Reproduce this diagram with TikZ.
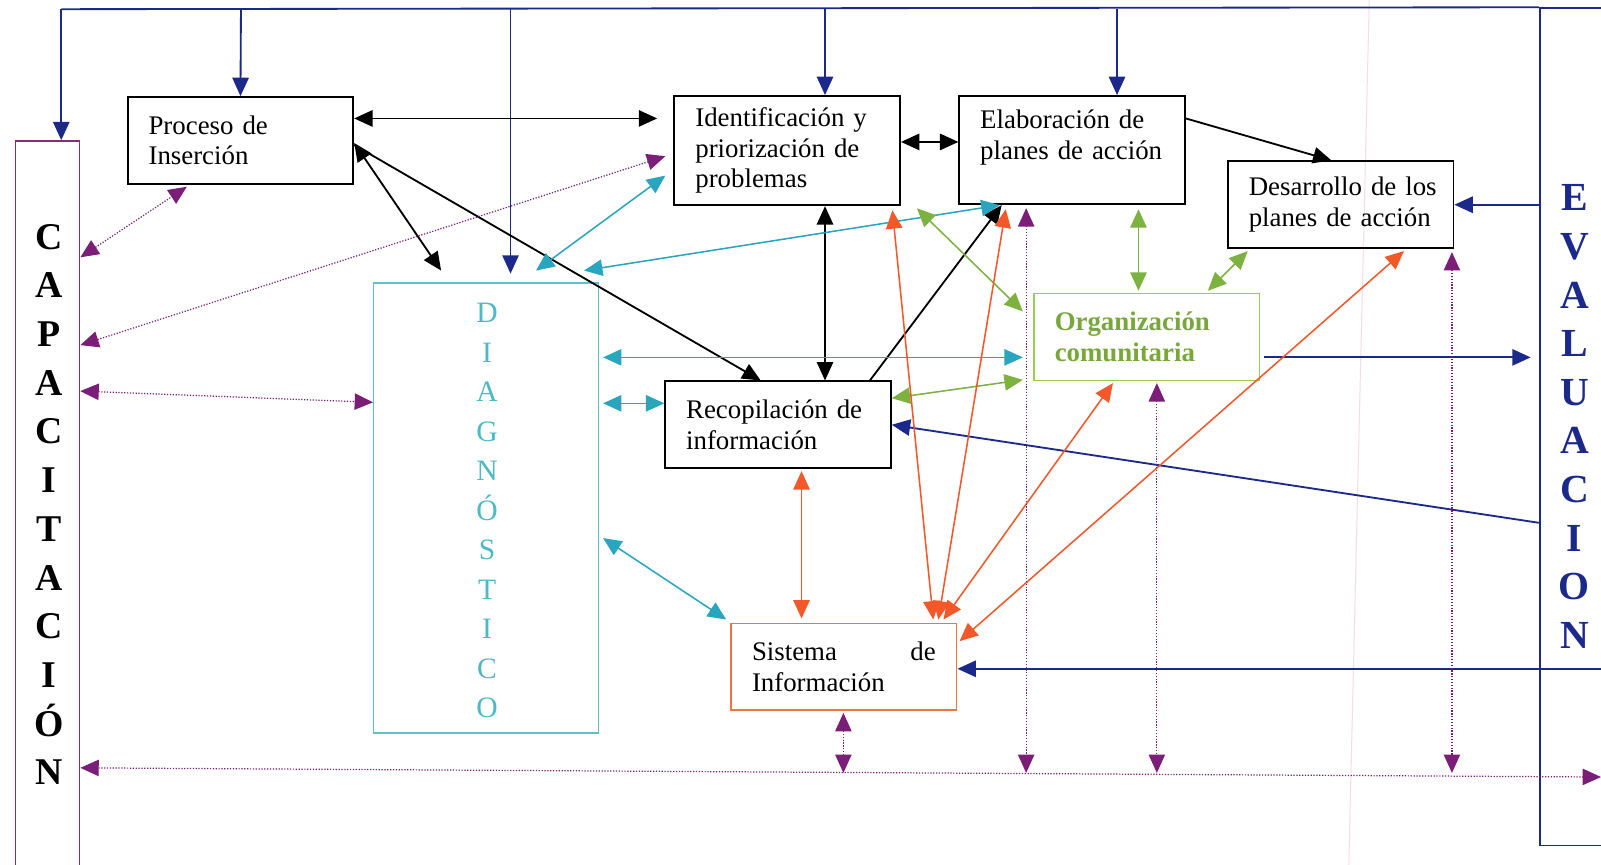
\documentclass[tikz,border=0pt]{standalone}
\usepackage{fontspec}
\setmainfont{Liberation Serif}
\usetikzlibrary{arrows.meta,calc}

\definecolor{cNavy}{HTML}{1B2A8A}
\definecolor{cCyanLine}{HTML}{2AA5BF}
\definecolor{cCyanBox}{HTML}{5DBFCB}
\definecolor{cCyanText}{HTML}{4DB8C6}
\definecolor{cGreenLine}{HTML}{7DB240}
\definecolor{cGreenBox}{HTML}{9ACB55}
\definecolor{cGreenText}{HTML}{78A83A}
\definecolor{cOrangeLine}{HTML}{F2582A}
\definecolor{cOrangeBox}{HTML}{EE7440}
\definecolor{cPurple}{HTML}{7A1E78}
\definecolor{cCapBox}{HTML}{8B2C6E}
\definecolor{cPink}{HTML}{F4DCEB}

\tikzset{
  box/.style={draw=black, line width=1.8pt, minimum width=221pt, minimum height=85pt,
    text width=180pt, inner xsep=0pt, align=left,
    font=\fontsize{26.3}{30}\selectfont},
  navyl/.style={draw=cNavy, line width=1.8pt},
  blk/.style={draw=black, line width=1.8pt},
  cyl/.style={draw=cCyanLine, line width=1.5pt},
  grl/.style={draw=cGreenLine, line width=1.5pt},
  orl/.style={draw=cOrangeLine, line width=1.5pt},
  dotl/.style={draw=cPurple, line width=1.2pt, dash pattern=on 1.2pt off 1.6pt},
  capletter/.style={anchor=base, font=\fontsize{37}{37}\selectfont\bfseries},
  evaletter/.style={anchor=base, text=cNavy, font=\fontsize{39}{39}\selectfont\bfseries},
  dialetter/.style={anchor=base, text=cCyanText, font=\fontsize{29}{29}\selectfont},
}

\begin{document}
\begin{tikzpicture}[x=1pt, y=-1pt, >={Triangle[length=18pt,width=16pt]}]
\fill[white] (0,0) rectangle (1568,847);
\useasboundingbox (0,0) rectangle (1568,847);

% faint ruling of the page
\draw[cPink, line width=1pt] (1341,0) -- (1321,847);

% frames
\node[draw=cCapBox, line width=1.4pt, minimum width=63pt, minimum height=730pt, inner sep=0pt] (cap) at (46.5,503) {};
\node[draw=cNavy, line width=1.8pt, minimum width=100pt, minimum height=820pt, inner sep=0pt] (eva) at (1558,418) {};
\node[draw=cCyanBox, line width=1.3pt, minimum width=220pt, minimum height=441pt, inner sep=0pt] (dia) at (476,497.5) {};

% vertical words
\foreach \l [count=\i from 0] in {C,A,P,A,C,I,T,A,C,I,Ó,N}
  \node[capletter] (capl\i) at (48,{244+47.7*\i}) {\l};
\foreach \l [count=\i from 0] in {E,V,A,L,U,A,C,I,O,N}
  \node[evaletter] (eval\i) at (1542,{206.5+47.6*\i}) {\l};
\foreach \l [count=\i from 0] in {D,I,A,G,N,Ó,S,T,I,C,O}
  \node[dialetter] (dial\i) at (477,{316+38.7*\i}) {\l};

% process boxes
\node[box] (ins) at (235.5,137.5) {Proceso de\\Inserción};
\node[box, minimum height=107pt] (ide) at (771,147.5) {Identificación y\\priorización de\\problemas};
\node[box, minimum height=106pt] (ela) at (1050,147) {Elaboración de\\planes de acción\\\mbox{}};
\node[box] (des) at (1313,200.5) {\mbox{Desarrollo de los}\\planes de acción};
\node[box, draw=cGreenBox, line width=1.5pt, text=cGreenText,
      font=\fontsize{26.3}{30}\selectfont\bfseries] (org) at (1123,330) {Organización\\comunitaria};
\node[box] (rec) at (762,416) {Recopilación de\\información};
\node[box, draw=cOrangeBox, line width=1.5pt] (sis) at (826.5,653) {Sistema\hfill de\\Información};

% free ends
\coordinate (t0) at (60,9);
\coordinate (t1) at (236,9);
\coordinate (t2) at (500,9);
\coordinate (t3) at (808,9);
\coordinate (t4) at (1094,9);
\coordinate (d0) at (432,265);
\coordinate (d1) at (500,268);
\coordinate (d2) at (525,265);
\coordinate (d3) at (572,265);
\coordinate (g1) at (898,204);
\coordinate (evain) at (1600,655);
\coordinate (rp) at (1568,761);
\coordinate (b1) at (826,757);
\coordinate (b2) at (1005,757);
\coordinate (b3) at (1133,757);
\coordinate (b4) at (1422,757);

% navy: evaluation feedback
\draw[navyl] (t0) -- (eva.north west);
\draw[navyl,->] (t0) -- (cap.north -| t0);
\draw[navyl,->] (t1) -- (ins.north);
\draw[navyl,->] (t2) -- (d1);
\draw[navyl,->] (t3) -- (ide.north -| t3);
\draw[navyl,->] (t4) -- (ela.north -| t4);
\draw[navyl,->] (eva.west |- des.east) -- (des.east);
\draw[navyl,->] ([xshift=4pt]org.east |- 0,350) -- ([xshift=-8pt]eva.west |- 0,350);
\draw[navyl,->] (eva.west |- 0,512) -- (rec.east);
\draw[navyl,->] (evain) -- (sis.east |- evain);

% black: main flow
\draw[blk,<->] (ins.east |- 0,116) -- ([xshift=-16pt]ide.west |- 0,116);
\draw[blk,<->] (ins.east |- 0,140) -- (d0);
\draw[blk,->] (ins.east |- 0,142) -- (rec.north -| 745,0);
\draw[blk,<->] (ide.east |- 0,139) -- (ela.west |- 0,139);
\draw[blk,->] (ela.east |- 0,116) -- (des.north -| 1304,0);
\draw[blk,<->] (ide.south -| 808,0) -- (rec.north -| 808,0);
\draw[blk,->] (rec.north -| 852,0) -- (ela.south -| 981,0);

% cyan: diagnosis links
\draw[cyl,<->] ([xshift=-8pt]ide.west |- 0,172) -- (d2);
\draw[cyl,<->] (d3) -- (ela.south -| 979,0);
\draw[cyl,<->] ([xshift=4pt]dia.east |- 0,350) -- ([xshift=-10pt]org.west |- 0,350);
\draw[cyl,<->] ([xshift=4pt]dia.east |- 0,395) -- (rec.west |- 0,395);
\draw[cyl,<->] ([xshift=4pt]dia.east |- 0,527) -- ([xshift=-4pt,yshift=3pt]sis.north west);

% green: community organisation
\draw[grl,<->] (g1) -- ([xshift=-10pt]org.west |- 0,305);
\draw[grl,<->] ([yshift=-4pt]ela.south -| 1115,0) -- ([yshift=2pt]org.north -| 1115,0);
\draw[grl,<->] ([yshift=-2pt]des.south -| 1222,0) -- ([yshift=2pt]org.north -| 1183,0);
\draw[grl,<->] (rec.east |- 0,390) -- ([xshift=-10pt]org.west |- 0,372);

% orange: information system
\draw[orl,<->] ([yshift=-2pt]rec.south -| 785,0) -- ([yshift=4pt]sis.north -| 785,0);
\draw[orl,<->] ([yshift=-4pt]ide.south -| 874,0) -- ([yshift=3pt]sis.north -| 914,0);
\draw[orl,<->] ([yshift=-4pt]ela.south -| 985,0) -- ([yshift=3pt]sis.north -| 919,0);
\draw[orl,<->] ([yshift=-2pt]org.south -| 1090,0) -- ([yshift=3pt]sis.north -| 924,0);
\draw[orl,<->] ([yshift=-2pt]des.south -| 1375,0) -- ([xshift=2pt]sis.east |- 0,628);

% purple dotted: training links
\draw[dotl,<->] (cap.east |- 0,252) -- ([yshift=-2pt]ins.south -| 183,0);
\draw[dotl,<->] (cap.east |- 0,338) -- ([xshift=-8pt]ide.west |- 0,153);
\draw[dotl,<->] (cap.east |- 0,383) -- (dia.west |- 0,394);
\draw[dotl,<->] (cap.east |- 0,752) -- (rp);
\draw[dotl,<->] ([yshift=-2pt]sis.south -| b1) -- (b1);
\draw[dotl,<->] ([yshift=-3pt]ela.south -| b2) -- (b2);
\draw[dotl,<->] ([yshift=-2pt]org.south -| b3) -- (b3);
\draw[dotl,<->] ([yshift=-3pt]des.south -| b4) -- (b4);
\end{tikzpicture}
\end{document}
